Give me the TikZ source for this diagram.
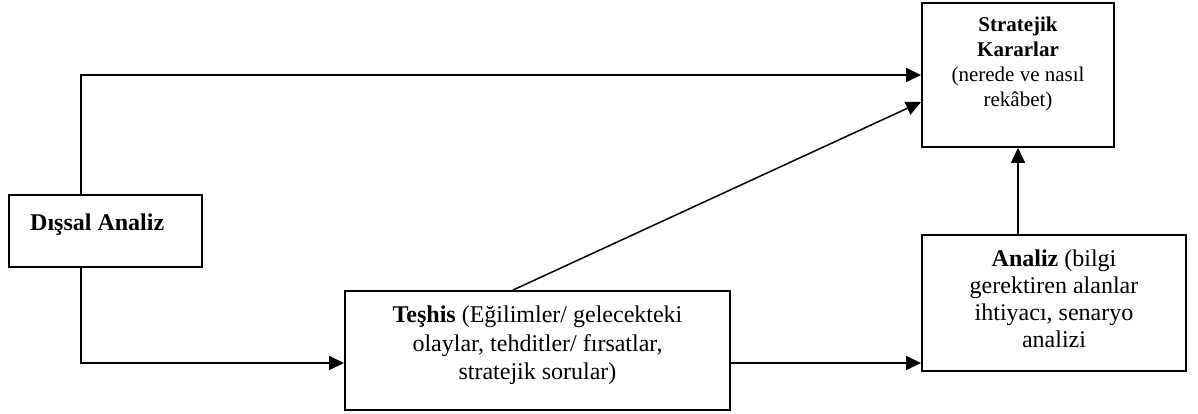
\documentclass[tikz,border=0pt]{standalone}
\usepackage{fontspec}
\setmainfont{Liberation Serif}
\usetikzlibrary{arrows.meta,calc}
\begin{document}
\begin{tikzpicture}[x=1pt,y=-1pt,
  boxnode/.style={draw,line width=1.9pt,inner sep=0pt,rectangle},
  lbl/.style={inner sep=0pt,align=center},
  conn/.style={line width=1.5pt,-{Triangle[length=15pt,width=14pt]}},
  bigfont/.style={font=\fontsize{24}{28.5}\selectfont},
  smallfont/.style={font=\fontsize{21}{25}\selectfont}]
\useasboundingbox (0,0) rectangle (1198,414);
% boxes
\node[boxnode,minimum width=192pt,minimum height=144pt] (strat) at (1018,75) {};
\node[boxnode,minimum width=193pt,minimum height=72pt] (dis) at (105.5,231) {};
\node[boxnode,minimum width=385pt,minimum height=119pt] (tes) at (537.5,350.5) {};
\node[boxnode,minimum width=264pt,minimum height=136pt] (ana) at (1054,303) {};
% labels
\node[lbl,smallfont,anchor=north] (stratl) at (1018,17) {\textbf{Stratejik}\\\textbf{Kararlar}\\(nerede ve nasıl\\rekâbet)};
\node[lbl,bigfont,anchor=base west] (disl) at (30,230) {\textbf{Dışsal Analiz}};
\node[lbl,bigfont,anchor=north] (tesl) at (537.5,306) {\textbf{Teşhis} (Eğilimler/ gelecekteki\\olaylar, tehditler/ fırsatlar,\\stratejik sorular)};
\node[lbl,bigfont,anchor=north,font=\fontsize{24}{27}\selectfont] (anal) at (1054,250) {\textbf{Analiz} (bilgi\\gerektiren alanlar\\ihtiyacı, senaryo\\analizi};
% connectors
\coordinate (dtop) at ([xshift=-24.5pt]dis.north);
\coordinate (dbot) at ([xshift=-24.5pt]dis.south);
\coordinate (tin) at ([yshift=-12.5pt]tes.west);
\coordinate (tout) at ([yshift=-12.5pt]tes.east);
\coordinate (ttop) at ([xshift=-24.5pt]tes.north);
\coordinate (sdiag) at ([yshift=-27pt]strat.west);
\draw[conn] (dtop) |- (strat.west);
\draw[conn] (dbot) |- (tin);
\draw[conn] (ttop) -- (sdiag);
\draw[conn] (tout) -- (tout -| ana.west);
\draw[conn] (strat.south |- ana.north) -- (strat.south);
\end{tikzpicture}
\end{document}
